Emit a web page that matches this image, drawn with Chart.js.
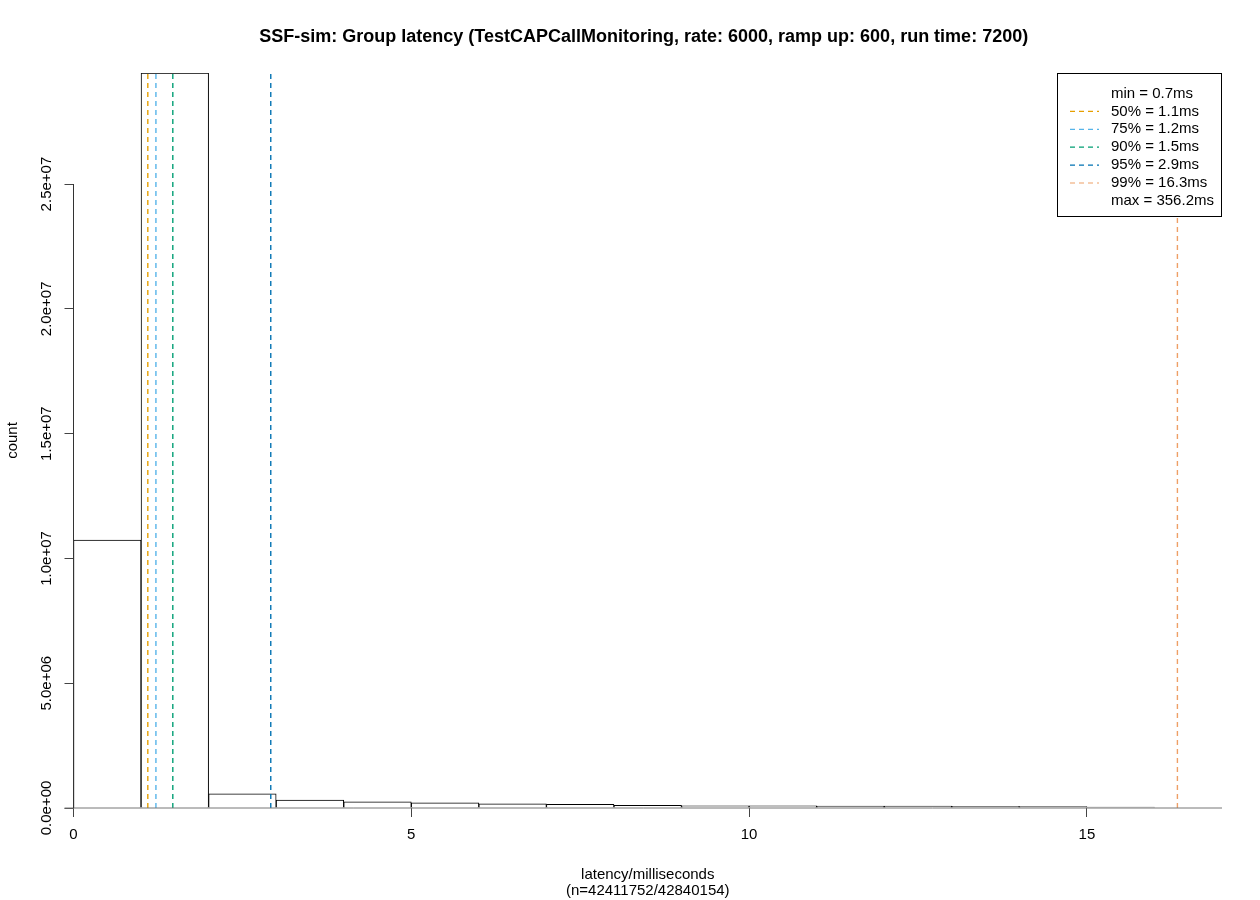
<!DOCTYPE html>
<html>
<head>
<meta charset="utf-8">
<script src="https://cdn.jsdelivr.net/npm/chart.js@4.4.1/dist/chart.umd.min.js"></script>
<style>
  html, body { margin: 0; padding: 0; background: #fff; }
  #wrap { width: 1260px; height: 900px; }
</style>
</head>
<body>
<div id="wrap"><canvas id="histChart" width="1260" height="900"></canvas></div>
<script>
// histogram bins (1 ms wide), counts
const binStarts = [0, 1, 2, 3, 4, 5, 6, 7, 8, 9, 10, 11, 12, 13, 14, 15];
const binCounts = [10740000, 29450000, 570000, 320000, 250000, 210000, 170000, 150000,
                   110000, 90000, 90000, 80000, 80000, 70000, 60000, 40000];

// percentile markers
const pctLabels = ["50%", "75%", "90%", "95%", "99%"];
const pctValues = [1.10, 1.22, 1.47, 2.92, 16.34];
const pctColors = ["#E69F00", "#56B4E9", "#009E73", "#0072B2", "#EE9F66"];
const minMs = 0.7;
const maxMs = 356.2;

const xTicks = [0, 5, 10, 15];
const yTicks = [0, 5e6, 1e7, 1.5e7, 2e7, 2.5e7];
const yMax = 29450000;
const xMax = 17;

const titleText = "SSF-sim: Group latency (TestCAPCallMonitoring, rate: 6000, ramp up: 600, run time: 7200)";
const xTitle = ["latency/milliseconds", "(n=42411752/42840154)"];
const fontFam = "'Liberation Sans', Arial, Helvetica, sans-serif";

const canvas = document.querySelector("#histChart");

const pctDatasets = pctValues.map((v, i) => ({
    type: 'line',
    label: pctLabels[i],
    data: [{x: v, y: 0}, {x: v, y: yMax}],
    borderColor: pctColors[i],
    borderWidth: 1.4,
    borderDash: [5, 4],
    pointRadius: 0,
    fill: false,
    order: 1
}));

// title over the plot region, axis lines, baseline and the legend box, R style
const extras = {
    id: 'extras',
    afterDatasetsDraw(chart) {
        const ctx = chart.ctx;
        const area = chart.chartArea;
        const ys = chart.scales.y;
        const y0 = ys.getPixelForValue(0);
        ctx.save();
        // main title
        ctx.fillStyle = '#000';
        ctx.font = "bold 18px " + fontFam;
        ctx.textAlign = 'center';
        ctx.textBaseline = 'middle';
        ctx.fillText(titleText, (area.left + area.right) / 2 - 4, 37);
        // baseline
        ctx.strokeStyle = '#777';
        ctx.lineWidth = 1;
        ctx.beginPath();
        ctx.moveTo(area.left - 9, y0);
        ctx.lineTo(area.right, y0);
        ctx.stroke();
        // y axis line over tick range
        ctx.strokeStyle = '#333';
        ctx.beginPath();
        ctx.moveTo(area.left, ys.getPixelForValue(yTicks[0]));
        ctx.lineTo(area.left, ys.getPixelForValue(yTicks[yTicks.length - 1]));
        ctx.stroke();

        // legend
        const rows = [{text: "min = " + minMs.toFixed(1) + "ms", color: null}];
        pctLabels.forEach((l, i) => rows.push({text: l + " = " + pctValues[i].toFixed(1) + "ms", color: pctColors[i]}));
        rows.push({text: "max = " + maxMs.toFixed(1) + "ms", color: null});
        const bw = 165, bh = 144;
        const bx = area.right - bw, by = area.top;
        ctx.fillStyle = '#fff';
        ctx.fillRect(bx, by, bw, bh);
        ctx.strokeStyle = '#000';
        ctx.strokeRect(bx + 0.5, by + 0.5, bw - 1, bh - 1);
        ctx.font = "15px " + fontFam;
        ctx.textBaseline = 'middle';
        ctx.textAlign = 'left';
        rows.forEach((r, i) => {
            const ry = by + 20.5 + i * 17.9;
            if (r.color) {
                ctx.strokeStyle = r.color;
                ctx.lineWidth = 1.2;
                ctx.setLineDash([5, 4]);
                ctx.beginPath();
                ctx.moveTo(bx + 13, ry);
                ctx.lineTo(bx + 42, ry);
                ctx.stroke();
                ctx.setLineDash([]);
            }
            ctx.fillStyle = '#000';
            ctx.fillText(r.text, bx + 54, ry);
        });
        ctx.restore();
    }
};

new Chart(canvas, {
    data: {
        datasets: [
            ...pctDatasets,
            {
                type: 'bar',
                label: 'count',
                data: binStarts.map((s, i) => ({x: s + 0.5, y: binCounts[i]})),
                backgroundColor: '#ffffff',
                borderColor: '#000000',
                borderWidth: 1,
                barPercentage: 1,
                categoryPercentage: 1,
                order: 2
            }
        ]
    },
    options: {
        responsive: false,
        animation: false,
        devicePixelRatio: 1,
        layout: { padding: { left: 0, right: 38, top: 73, bottom: 0 } },
        plugins: {
            legend: { display: false },
            tooltip: { enabled: false },
            title: { display: false }
        },
        scales: {
            x: {
                type: 'linear',
                min: 0,
                max: xMax,
                offset: false,
                afterFit(scale) { scale.height = 92; },
                afterBuildTicks(scale) { scale.ticks = xTicks.map(v => ({value: v})); },
                grid: { offset: false, drawOnChartArea: false, drawTicks: true, tickLength: 9, color: '#444' },
                border: { display: false },
                ticks: { color: '#000', padding: 9, font: { family: fontFam, size: 15 } },
                title: {
                    display: true,
                    text: xTitle,
                    color: '#000',
                    font: { family: fontFam, size: 15, lineHeight: 16 / 15 },
                    padding: { top: 0, bottom: 1 }
                }
            },
            y: {
                min: 0,
                max: yMax,
                afterFit(scale) { scale.width = 73.5; },
                afterBuildTicks(scale) { scale.ticks = yTicks.map(v => ({value: v})); },
                grid: { drawOnChartArea: false, drawTicks: true, tickLength: 9, color: '#444' },
                border: { display: false },
                ticks: {
                    color: '#000',
                    padding: -10,
                    minRotation: 90,
                    maxRotation: 90,
                    crossAlign: 'center',
                    font: { family: fontFam, size: 15 },
                    callback: v => v.toExponential(1).replace(/e([+-])(\d)$/, 'e$10$2')
                },
                title: {
                    display: true,
                    text: 'count',
                    color: '#000',
                    font: { family: fontFam, size: 15, lineHeight: 1.2 },
                    padding: { top: 3.5, bottom: 0 }
                }
            }
        }
    },
    plugins: [extras]
});
</script>
</body>
</html>
